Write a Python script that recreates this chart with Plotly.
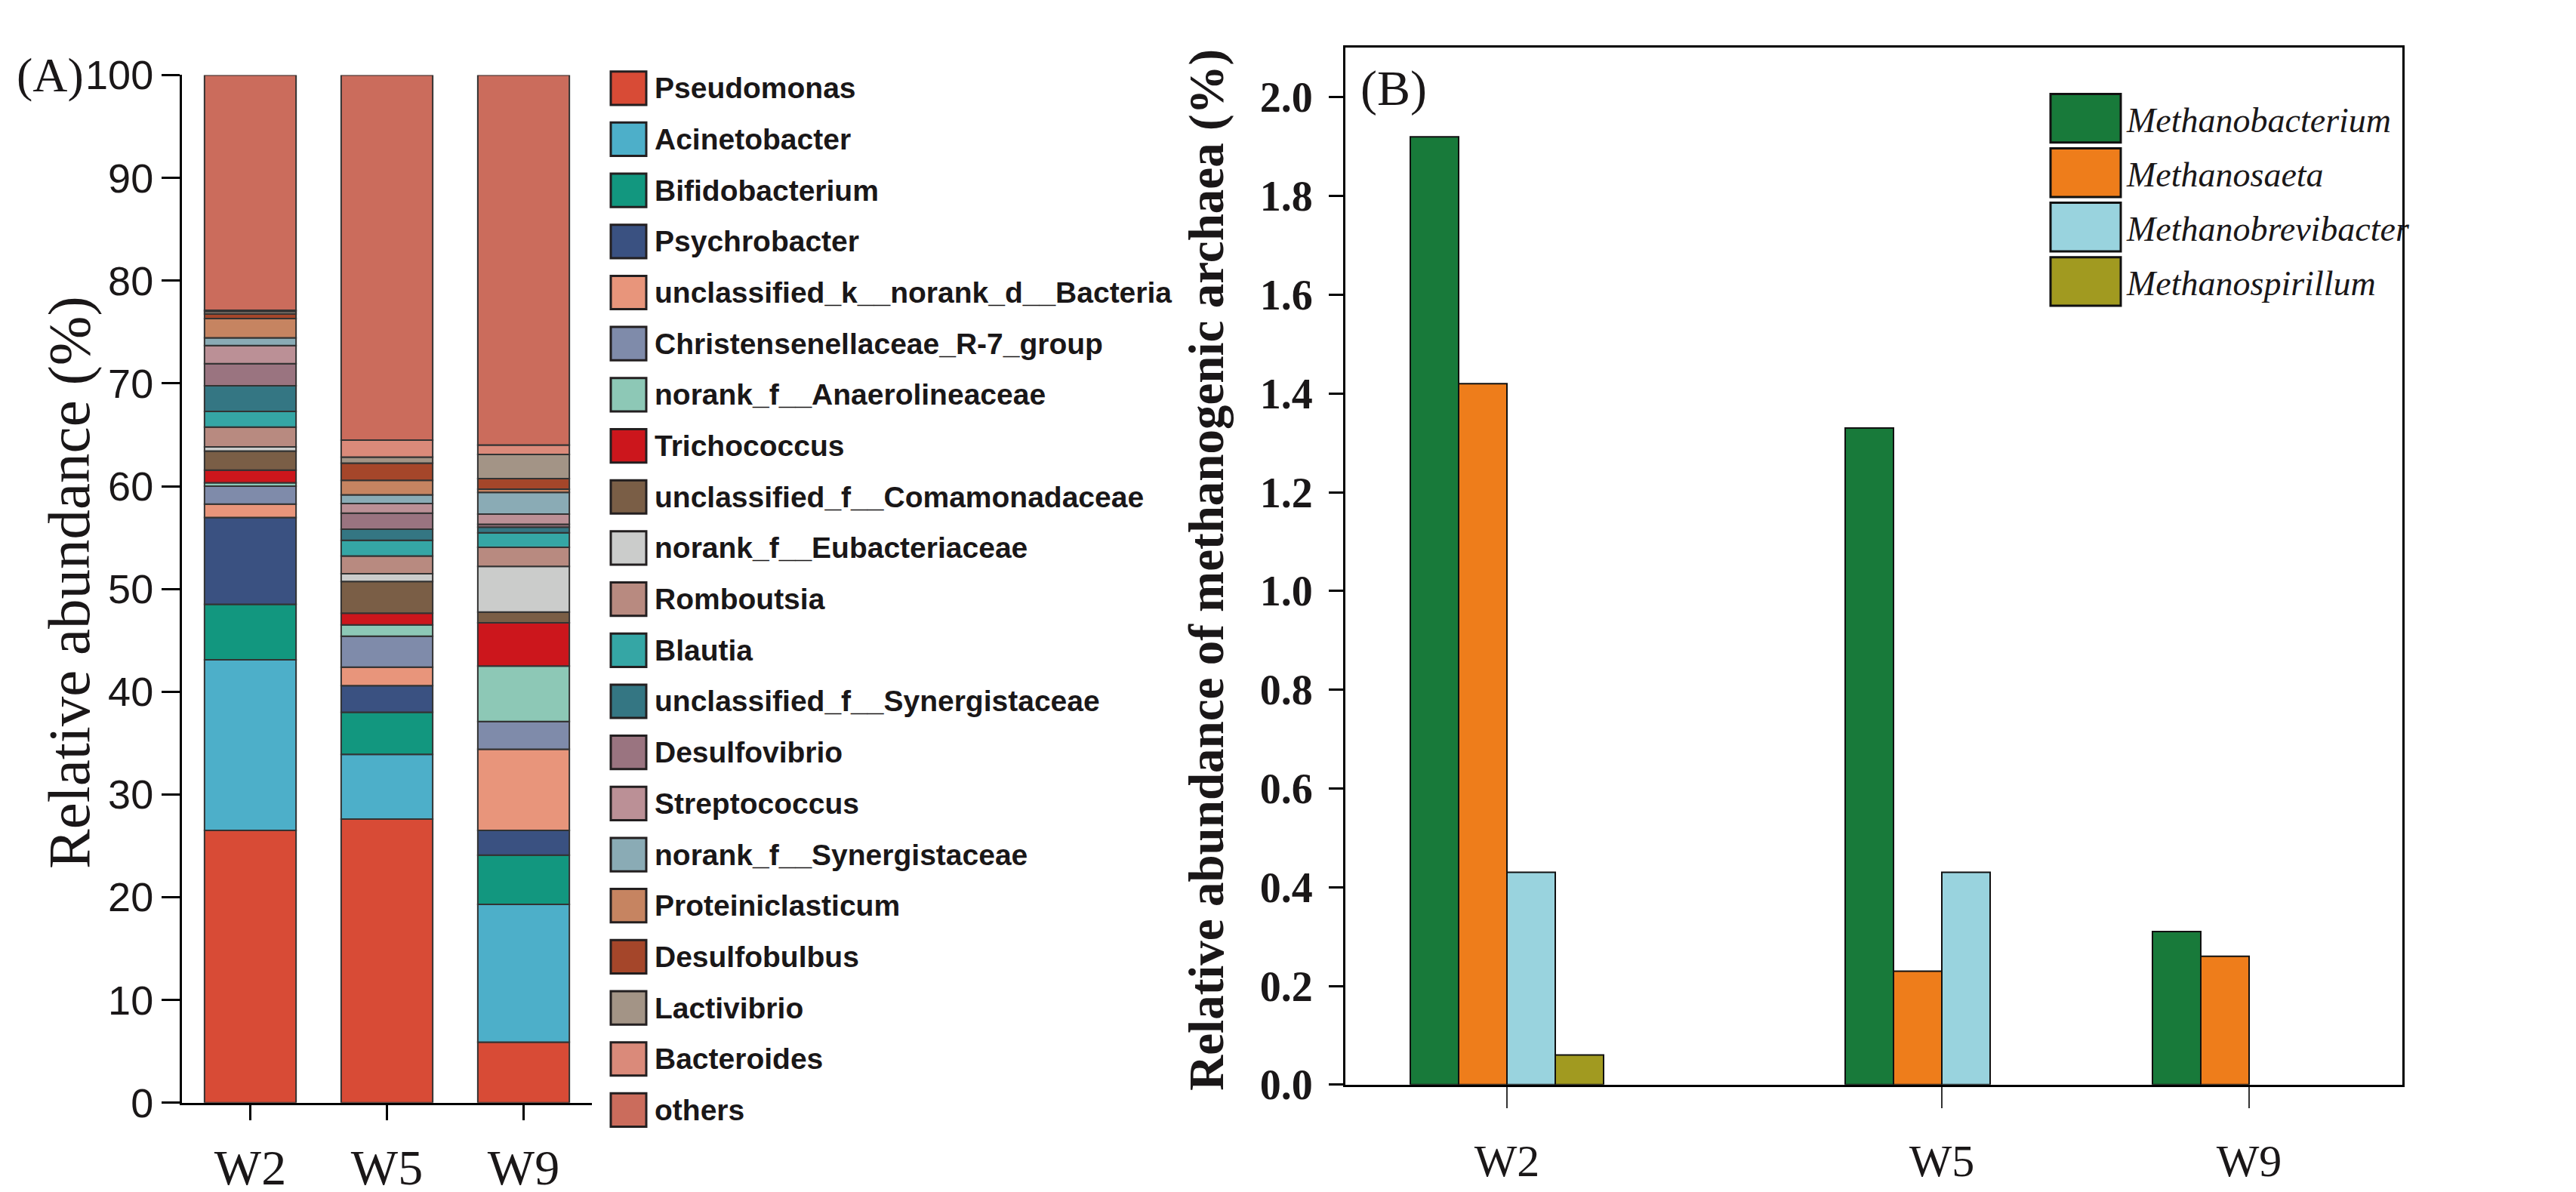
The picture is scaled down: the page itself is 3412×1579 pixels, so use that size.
import numpy as np
import plotly.graph_objects as go

# ---- data ----
samples = ["W2", "W5", "W9"]

genera = [
    "Pseudomonas", "Acinetobacter", "Bifidobacterium", "Psychrobacter",
    "unclassified_k__norank_d__Bacteria", "Christensenellaceae_R-7_group",
    "norank_f__Anaerolineaceae", "Trichococcus", "unclassified_f__Comamonadaceae",
    "norank_f__Eubacteriaceae", "Romboutsia", "Blautia",
    "unclassified_f__Synergistaceae", "Desulfovibrio", "Streptococcus",
    "norank_f__Synergistaceae", "Proteiniclasticum", "Desulfobulbus",
    "Lactivibrio", "Bacteroides", "others",
]
w2_abund = [26.5, 16.6, 5.4, 8.45, 1.3, 1.76, 0.33, 1.22, 1.86, 0.4, 1.93, 1.53,
            2.49, 2.15, 1.76, 0.75, 1.88, 0.45, 0.25, 0.1, 22.89]
w5_abund = [27.6, 6.3, 4.1, 2.6, 1.8, 3.0, 1.1, 1.14, 3.08, 0.76, 1.73, 1.53,
            1.08, 1.55, 0.94, 0.85, 1.41, 1.67, 0.59, 1.65, 35.52]
w9_abund = [5.9, 13.4, 4.8, 2.4, 7.9, 2.7, 5.4, 4.2, 1.06, 4.44, 1.86, 1.41,
            0.54, 0.28, 0.99, 2.12, 0.3, 1.04, 2.35, 0.92, 35.99]

methanogens = ["Methanobacterium", "Methanosaeta", "Methanobrevibacter", "Methanospirillum"]
meth_w2 = [1.92, 1.42, 0.43, 0.06]
meth_w5 = [1.33, 0.23, 0.43, 0.0]
meth_w9 = [0.31, 0.26, 0.0, 0.0]

# ---- styles ----
genus_colors = [
    "#D84B36", "#4DAFC9", "#12977F", "#3A5181", "#E8957B", "#7F8BAA",
    "#8DC8B6", "#CC161C", "#7A5E46", "#CBCCCB", "#B88A80", "#35A6A5",
    "#347683", "#9A7480", "#BB9096", "#8AABB5", "#C68461", "#A5462A",
    "#A39486", "#DA8A7A", "#CB6C5C",
]
meth_colors = ["#187A3A", "#EE7D1B", "#99D3DE", "#A19A20"]

W, H = 3412, 1579
SERIF = "Liberation Serif, Times New Roman, serif"
SANS = "Liberation Sans, Arial, sans-serif"
INK = "#1a1718"


def px(x):
    return x / W


def py(y):
    return 1 - y / H


fig = go.Figure()

# ---- (A) stacked composition ----
abund = np.array([w2_abund, w5_abund, w9_abund]).T  # genus x sample
bases = np.vstack([np.zeros(3), np.cumsum(abund, axis=0)[:-1]])
for i, g in enumerate(genera):
    fig.add_trace(go.Bar(
        x=samples, y=abund[i], base=bases[i], name=g,
        width=0.67, marker=dict(color=genus_colors[i], line=dict(color="#333333", width=2)),
        xaxis="x", yaxis="y", showlegend=False,
    ))

# ---- (B) methanogenic archaea, grouped ----
group_pos = [2.14, 7.90, 11.97]   # tick positions on panel B axis
bw = 0.64
meth = np.array([meth_w2, meth_w5, meth_w9]).T
for k, m in enumerate(methanogens):
    fig.add_trace(go.Bar(
        x=group_pos, y=meth[k], name=m, width=bw, offset=(k - 2) * bw,
        marker=dict(color=meth_colors[k],
                    line=dict(color="#111111", width=[2 if v > 0 else 0 for v in meth[k]])),
        xaxis="x2", yaxis="y2", showlegend=False,
    ))

# ---- legends drawn as swatches + labels ----
shapes = []
annotations = []
for i, g in enumerate(genera):
    cy = 82 + i * 70.45
    shapes.append(dict(type="rect", xref="paper", yref="paper",
                       x0=px(801), x1=px(848), y0=py(cy - 23), y1=py(cy + 23),
                       fillcolor=genus_colors[i], line=dict(color="#231f20", width=3)))
    annotations.append(dict(xref="paper", yref="paper", x=px(857), y=py(cy),
                            xanchor="left", yanchor="middle", showarrow=False, text=g,
                            font=dict(family=SANS, size=39, color=INK, weight="bold")))
for k, m in enumerate(methanogens):
    top = 90 + k * 75
    shapes.append(dict(type="rect", xref="paper", yref="paper",
                       x0=px(2708), x1=px(2801), y0=py(top + 67), y1=py(top),
                       fillcolor=meth_colors[k], line=dict(color="#111111", width=3)))
    annotations.append(dict(xref="paper", yref="paper", x=px(2806), y=py(top + 36),
                            xanchor="left", yanchor="middle", showarrow=False,
                            text="<i>%s</i>" % m,
                            font=dict(family=SERIF, size=46, color=INK)))

# panel tags and axis titles
annotations += [
    dict(xref="paper", yref="paper", x=px(58), y=py(64), text="(A)", showarrow=False,
         xanchor="center", yanchor="middle", font=dict(family=SERIF, size=64, color=INK)),
    dict(xref="paper", yref="paper", x=px(1838), y=py(82), text="(B)", showarrow=False,
         xanchor="center", yanchor="middle", font=dict(family=SERIF, size=66, color=INK)),
    dict(xref="paper", yref="paper", x=px(83), y=py(764), text="Relative abundance (%)",
         textangle=-90, showarrow=False, xanchor="center", yanchor="middle",
         font=dict(family=SERIF, size=79, color=INK)),
    dict(xref="paper", yref="paper", x=px(1590), y=py(746),
         text="Relative abundance of methanogenic archaea (%)",
         textangle=-90, showarrow=False, xanchor="center", yanchor="middle",
         font=dict(family=SERIF, size=65, color=INK, weight="bold")),
]

fig.update_layout(
    width=W, height=H,
    margin=dict(l=0, r=0, t=0, b=0),
    paper_bgcolor="white", plot_bgcolor="white",
    barmode="overlay",
    shapes=shapes, annotations=annotations,
    xaxis=dict(domain=[px(233), px(776)], type="category", range=[-0.5, 2.5],
               showline=True, linecolor="black", linewidth=3,
               ticks="outside", ticklen=20, tickwidth=3, tickcolor="black",
               tickfont=dict(family=SERIF, size=66, color=INK),
               ticklabelstandoff=6, showgrid=False, zeroline=False, anchor="y"),
    yaxis=dict(domain=[py(1481), py(64)], range=[0, 100], dtick=10,
               showline=True, linecolor="black", linewidth=3,
               ticks="outside", ticklen=24, tickwidth=3, tickcolor="black",
               tickfont=dict(family=SANS, size=54, color=INK),
               showgrid=False, zeroline=False, anchor="x"),
    xaxis2=dict(domain=[px(1774), px(3174)], range=[0, 14],
                tickvals=group_pos, ticktext=samples,
                showline=True, mirror=True, linecolor="black", linewidth=3,
                ticks="outside", ticklen=28, tickwidth=2, tickcolor="#333333",
                tickfont=dict(family=SERIF, size=60, color=INK),
                ticklabelstandoff=18, showgrid=False, zeroline=False, anchor="y2"),
    yaxis2=dict(domain=[py(1456), py(26.5)], range=[0, 2.1],
                tickvals=[0, 0.2, 0.4, 0.6, 0.8, 1.0, 1.2, 1.4, 1.6, 1.8, 2.0],
                tickformat=".1f",
                showline=True, mirror=True, linecolor="black", linewidth=3,
                ticks="outside", ticklen=19, tickwidth=3, tickcolor="black",
                tickfont=dict(family=SERIF, size=56, color=INK, weight="bold"),
                ticklabelstandoff=10, showgrid=False, zeroline=False, anchor="x2"),
)

fig.write_html("out.html")
